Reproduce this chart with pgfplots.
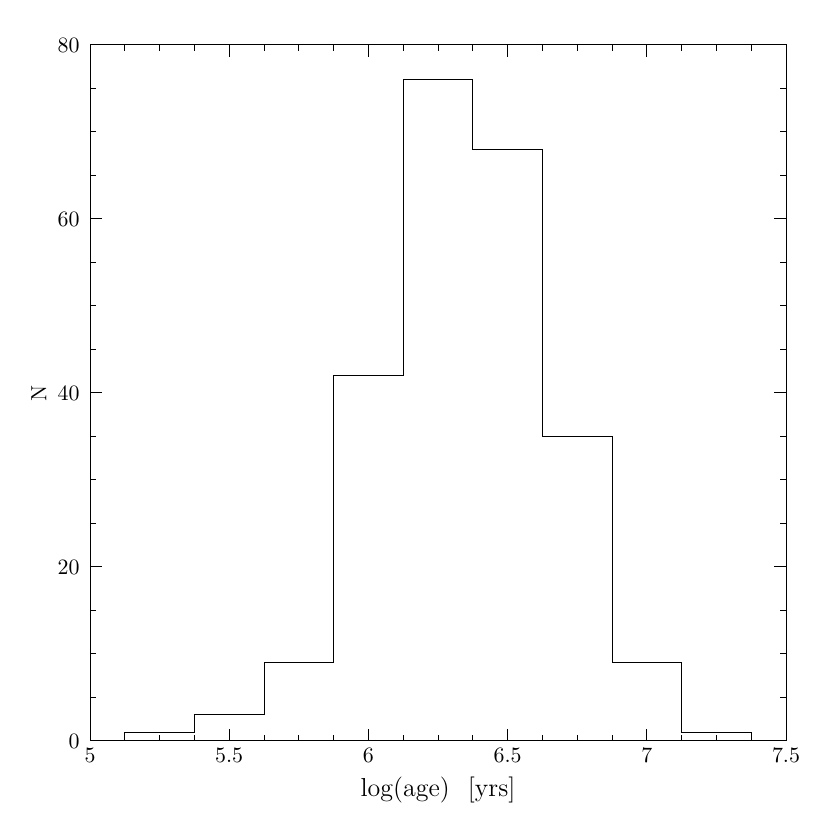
\documentclass[border=0pt]{standalone}
\usepackage{pgfplots}
\pgfplotsset{compat=1.18}
\begin{document}
\begin{tikzpicture}
\useasboundingbox (0,0) rectangle (415pt,415pt);
\begin{axis}[
  at={(45pt,44.5pt)}, anchor=south west,
  width=348pt, height=348pt, scale only axis,
  xmin=5, xmax=7.5, ymin=0, ymax=80,
  xtick={5,5.5,6,6.5,7,7.5},
  ytick={0,20,40,60,80},
  minor x tick num=3,
  minor y tick num=3,
  tick align=inside,
  major tick length=6pt,
  minor tick length=3pt,
  every tick/.style={black, line width=0.5pt},
  axis line style={line width=0.5pt},
  tick label style={font=\fontsize{10.5}{12}\selectfont},
  xticklabel style={anchor=base, yshift=-11pt},
  yticklabel style={xshift=-1.7pt},
  xlabel={log(age)\hspace{0.7em}[yrs]},
  ylabel={N},
  xlabel style={at={(axis description cs:0.5,-0.0704)}, anchor=center, font=\fontsize{13}{15}\selectfont},
  ylabel style={at={(axis description cs:-0.0733,0.5)}, anchor=center, font=\fontsize{11}{13}\selectfont},
  xticklabel={\pgfmathprintnumber[fixed]{\tick}},
]
\addplot[const plot, black, line width=0.5pt] coordinates {
 (5.125,0) (5.125,1) (5.375,3) (5.625,9) (5.875,42) (6.125,76) (6.375,68)
 (6.625,35) (6.875,9) (7.125,1) (7.375,1) (7.375,0)
};
\end{axis}
\end{tikzpicture}
\end{document}
